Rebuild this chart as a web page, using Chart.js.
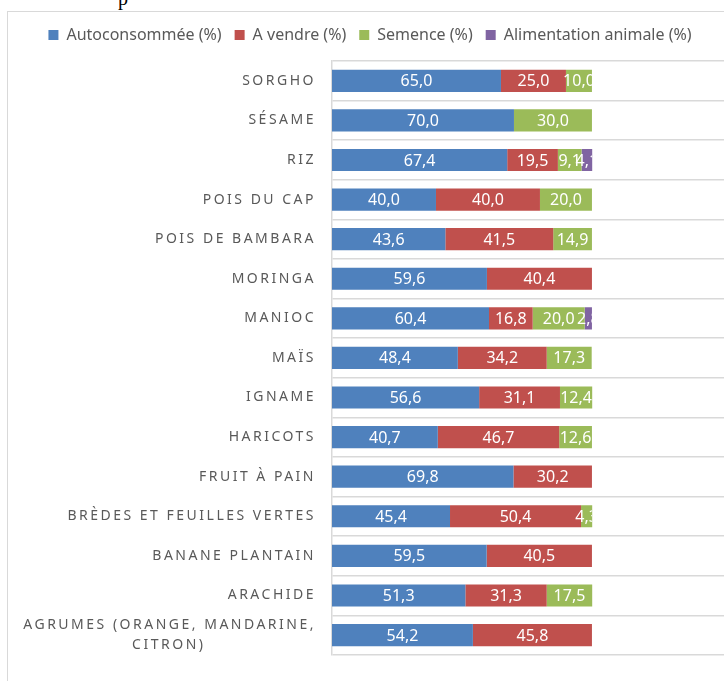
<!DOCTYPE html>
<html>
<head>
<meta charset="utf-8">
<script src="https://cdn.jsdelivr.net/npm/chart.js@4/dist/chart.umd.min.js"></script>
<style>
  html, body { margin: 0; padding: 0; background: #fff; overflow: hidden; }
  #page { position: relative; width: 724px; height: 681px; overflow: hidden; }
  #frame { position: absolute; left: 7px; top: 11px; width: 800px; height: 700px;
           border-left: 1px solid #d9d9d9; border-top: 1px solid #d9d9d9; }
  #chart { position: absolute; left: 8px; top: 14px; }
  #stray { position: absolute; left: 118px; top: -13px; font: 20px "Liberation Serif"; color: #000; }
</style>
</head>
<body>
<div id="page">
  <span id="stray">p</span>
  <div id="frame"></div>
  <canvas id="chart" width="716" height="667"></canvas>
</div>
<script>
// categories, top to bottom
const categories = [
    'SORGHO', 'SÉSAME', 'RIZ', 'POIS DU CAP', 'POIS DE BAMBARA', 'MORINGA', 'MANIOC',
    'MAÏS', 'IGNAME', 'HARICOTS', 'FRUIT À PAIN', 'BRÈDES ET FEUILLES VERTES',
    'BANANE PLANTAIN', 'ARACHIDE', ['AGRUMES (ORANGE, MANDARINE,', 'CITRON)']
];

// series (%)
const autoconsommee = [65.0, 70.0, 67.4, 40.0, 43.6, 59.6, 60.4, 48.4, 56.6, 40.7, 69.8, 45.4, 59.5, 51.3, 54.2];
const aVendre       = [25.0, null, 19.5, 40.0, 41.5, 40.4, 16.8, 34.2, 31.1, 46.7, 30.2, 50.4, 40.5, 31.3, 45.8];
const semence       = [10.0, 30.0, 9.1, 20.0, 14.9, null, 20.0, 17.3, 12.4, 12.6, null, 4.3, null, 17.5, null];
const alimAnimale   = [null, null, 4.1, null, null, null, 2.8, null, null, null, null, null, null, null, null];

const FONT = '"Noto Sans", "Open Sans", sans-serif';
const GREY_TXT = '#595959';
const GRID = '#d9d9d9';
const SPACING = 2.5; // letter spacing of the category labels

// centre the short line of a wrapped label under the long one (labels are right aligned)
const measureCtx = document.createElement('canvas').getContext('2d');
measureCtx.font = '14px ' + FONT;
measureCtx.letterSpacing = SPACING + 'px';
function centreLines(lines) {
    if (!Array.isArray(lines)) return lines;
    const widths = lines.map(l => measureCtx.measureText(l).width);
    const maxW = Math.max(...widths);
    const sp = measureCtx.measureText(' ').width;
    return lines.map((l, i) => l + ' '.repeat(Math.round((maxW - widths[i]) / 2 / sp)));
}

// extra room between the legend and the plot
const legendGap = {
    id: 'legendGap',
    beforeInit(chart) {
        const lg = chart.legend;
        if (!lg) return;
        const fit = lg.fit;
        lg.fit = function () { fit.call(this); this.height += 8; };
    }
};

// white value labels inside the bars, clipped at 100 %
const valueLabels = {
    id: 'valueLabels',
    afterDatasetsDraw(chart) {
        const ctx = chart.ctx;
        const area = chart.chartArea;
        const right = chart.scales.x.getPixelForValue(100);
        ctx.save();
        ctx.beginPath();
        ctx.rect(area.left, area.top, right - area.left, area.bottom - area.top);
        ctx.clip();
        ctx.font = '16px ' + FONT;
        ctx.fillStyle = '#ffffff';
        ctx.textAlign = 'center';
        ctx.textBaseline = 'middle';
        chart.data.datasets.forEach((ds, di) => {
            const meta = chart.getDatasetMeta(di);
            meta.data.forEach((bar, i) => {
                const v = ds.data[i];
                if (v == null) return;
                const p = bar.getProps(['x', 'y', 'base'], true);
                ctx.fillText(v.toFixed(1).replace('.', ','), (p.x + p.base) / 2, p.y + 1);
            });
        });
        ctx.restore();
        // y tick labels are drawn after this (ticks.z = 1) with letter spacing
        ctx.letterSpacing = SPACING + 'px';
    },
    afterDraw(chart) {
        chart.ctx.letterSpacing = '0px';
    }
};

const ctx = document.getElementById('chart').getContext('2d');
const chart = new Chart(ctx, {
    type: 'bar',
    data: {
        labels: categories,
        datasets: [
            { label: 'Autoconsommée (%)', data: autoconsommee, backgroundColor: '#4f81bd' },
            { label: 'A vendre (%)', data: aVendre, backgroundColor: '#c0504d' },
            { label: 'Semence (%)', data: semence, backgroundColor: '#9bbb59' },
            { label: 'Alimentation animale (%)', data: alimAnimale, backgroundColor: '#8064a2' }
        ]
    },
    options: {
        indexAxis: 'y',
        responsive: false,
        animation: false,
        categoryPercentage: 0.56,
        barPercentage: 1,
        layout: { padding: { top: 0, bottom: 14, left: 8, right: 0 } },
        plugins: {
            legend: {
                position: 'top',
                labels: {
                    boxWidth: 10,
                    boxHeight: 10,
                    padding: 13,
                    color: GREY_TXT,
                    font: { family: FONT, size: 16 }
                }
            },
            tooltip: { enabled: false }
        },
        scales: {
            x: {
                stacked: true,
                min: 0,
                max: 150.8,
                display: false
            },
            y: {
                stacked: true,
                grid: { color: GRID, lineWidth: 1.5, offset: true, drawTicks: false },
                border: { color: GRID, width: 1.5 },
                ticks: {
                    z: 1,
                    autoSkip: false,
                    color: GREY_TXT,
                    padding: 16,
                    font: { family: FONT, size: 14, lineHeight: 1.45 },
                    callback: function (value) {
                        return centreLines(this.getLabelForValue(value));
                    }
                },
                afterFit: function (scale) { scale.width = 316; }
            }
        }
    },
    plugins: [legendGap, valueLabels]
});
</script>
</body>
</html>
